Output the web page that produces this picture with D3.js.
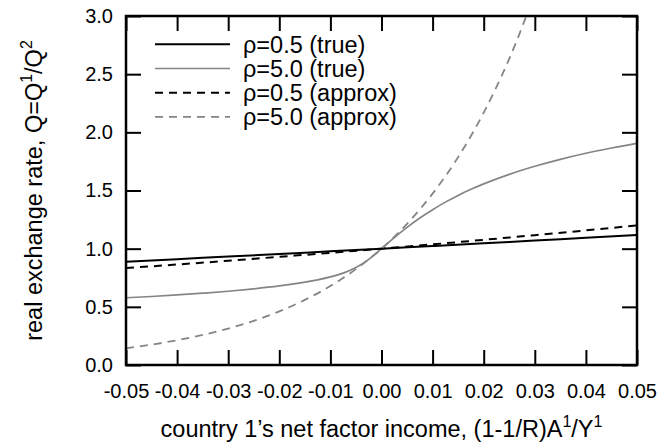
<!DOCTYPE html>
<html><head><meta charset="utf-8">
<script src="https://cdn.jsdelivr.net/npm/d3@7"></script>
<style>body{margin:0;background:#fff}svg{display:block}text{font-family:"Liberation Sans",Arial,sans-serif;fill:#000}</style>
</head><body><svg id="c" width="662" height="444"></svg>
<script>
// ---- data ----
const xTicks = [-0.05,-0.04,-0.03,-0.02,-0.01,0,0.01,0.02,0.03,0.04,0.05];
const xTickLabels = ["-0.05","-0.04","-0.03","-0.02","-0.01","0.00","0.01","0.02","0.03","0.04","0.05"];
const yTicks = [0,0.5,1,1.5,2,2.5,3];
const yTickLabels = ["0.0","0.5","1.0","1.5","2.0","2.5","3.0"];

const seriesNames = ["ρ=0.5 (true)","ρ=5.0 (true)","ρ=0.5 (approx)","ρ=5.0 (approx)"];

const trueLowX = [-0.05,-0.04,-0.03,-0.02,-0.01,0,0.01,0.02,0.03,0.04,0.05];
const trueLowY = [0.888,0.910,0.932,0.954,0.977,1.0,1.023,1.046,1.070,1.093,1.117];

const trueHighX = [-0.05,-0.045,-0.04,-0.035,-0.03,-0.025,-0.02,-0.0175,-0.015,-0.0125,-0.01,-0.0075,-0.005,-0.0025,0,0.0025,0.005,0.0075,0.01,0.0125,0.015,0.0175,0.02,0.025,0.03,0.035,0.04,0.045,0.05];
const trueHighY = [0.578,0.589,0.602,0.617,0.634,0.655,0.680,0.695,0.712,0.732,0.757,0.790,0.838,0.908,1.0,1.095,1.183,1.263,1.335,1.400,1.458,1.510,1.557,1.639,1.708,1.768,1.820,1.865,1.905];

const approxLowX = [-0.05,-0.04,-0.03,-0.02,-0.01,0,0.01,0.02,0.03,0.04,0.05];
const approxLowY = [0.833,0.864,0.896,0.930,0.964,1.0,1.037,1.076,1.116,1.157,1.200];

const approxHighX = [-0.05,-0.045,-0.04,-0.035,-0.03,-0.025,-0.02,-0.015,-0.01,-0.005,0,0.005,0.01,0.015,0.02,0.025,0.03];
const approxHighY = [0.144,0.175,0.213,0.258,0.313,0.380,0.461,0.560,0.679,0.824,1.0,1.214,1.473,1.787,2.169,2.632,3.193];

// ---- layout ----
const L = 126, R = 637, T = 16, B = 365;
const gray = "#858585";
const tickFont = 20, titleFont = 23.5, supFont = 16;
const svg = d3.select("#c");
const x = d3.scaleLinear().domain([-0.05,0.05]).range([L,R]);
const y = d3.scaleLinear().domain([0,3]).range([B,T]);

svg.append("defs").append("clipPath").attr("id","clip")
  .append("rect").attr("x",L).attr("y",T).attr("width",R-L).attr("height",B-T);

const tickLen = 15;
function styleAxis(g){
  g.select(".domain").remove();
  g.selectAll(".tick line").attr("stroke","#000").attr("stroke-width",2);
}
function styleText(g){
  g.selectAll("text").attr("font-size",tickFont)
   .attr("font-family","Liberation Sans, Arial, sans-serif").attr("fill","#000");
}
svg.append("g").attr("transform",`translate(0,${B})`)
  .call(d3.axisBottom(x).tickValues(xTicks).tickSizeInner(-tickLen).tickSizeOuter(0).tickPadding(19)
    .tickFormat((d,i)=>xTickLabels[i]))
  .call(styleAxis).call(styleText);
svg.append("g").attr("transform",`translate(0,${T})`)
  .call(d3.axisTop(x).tickValues(xTicks).tickSizeInner(-tickLen).tickSizeOuter(0).tickFormat(()=>""))
  .call(styleAxis);
svg.append("g").attr("transform",`translate(${L},0)`)
  .call(d3.axisLeft(y).tickValues(yTicks).tickSizeInner(-tickLen).tickSizeOuter(0).tickPadding(13)
    .tickFormat((d,i)=>yTickLabels[i]))
  .call(styleAxis).call(styleText);
svg.append("g").attr("transform",`translate(${R},0)`)
  .call(d3.axisRight(y).tickValues(yTicks).tickSizeInner(-tickLen).tickSizeOuter(0).tickFormat(()=>""))
  .call(styleAxis);

// ---- curves ----
const series = [
  {xs:trueLowX, ys:trueLowY, color:"#000", dash:null, w:2},
  {xs:trueHighX, ys:trueHighY, color:gray, dash:null, w:1.7},
  {xs:approxLowX, ys:approxLowY, color:"#000", dash:"8,6", w:2},
  {xs:approxHighX, ys:approxHighY, color:gray, dash:"8,6", w:1.8}
];
const line = d3.line().x(d=>x(d[0])).y(d=>y(d[1])).curve(d3.curveMonotoneX);
const plot = svg.append("g").attr("clip-path","url(#clip)");
series.forEach(s=>{
  plot.append("path").datum(d3.zip(s.xs,s.ys)).attr("d",line)
    .attr("fill","none").attr("stroke",s.color).attr("stroke-width",s.w)
    .attr("stroke-dasharray",s.dash);
});

// frame
svg.append("rect").attr("x",L).attr("y",T).attr("width",R-L).attr("height",B-T)
  .attr("fill","none").attr("stroke","#000").attr("stroke-width",2.5);

// ---- legend ----
const lg = svg.append("g");
series.forEach((s,i)=>{
  const yy = 44.3 + i*24.2;
  lg.append("line").attr("x1",155).attr("x2",230).attr("y1",yy).attr("y2",yy)
    .attr("stroke",s.color).attr("stroke-width",s.w).attr("stroke-dasharray",s.dash);
  lg.append("text").attr("x",243).attr("y",yy).attr("dy","0.35em").attr("font-size",titleFont).text(seriesNames[i]);
});

// ---- axis titles ----
const xt = svg.append("text").attr("x",(L+R)/2).attr("y",437).attr("text-anchor","middle").attr("font-size",titleFont);
xt.append("tspan").text("country 1’s net factor income, (1-1/R)A");
xt.append("tspan").attr("font-size",supFont).attr("dy",-10).text("1");
xt.append("tspan").attr("dy",10).text("/Y");
xt.append("tspan").attr("font-size",supFont).attr("dy",-10).text("1");

const yt = svg.append("text").attr("transform",`translate(42,${(T+B)/2}) rotate(-90)`).attr("text-anchor","middle").attr("font-size",titleFont);
yt.append("tspan").text("real exchange rate, Q=Q");
yt.append("tspan").attr("font-size",supFont).attr("dy",-10).text("1");
yt.append("tspan").attr("dy",10).text("/Q");
yt.append("tspan").attr("font-size",supFont).attr("dy",-10).text("2");
</script></body></html>
